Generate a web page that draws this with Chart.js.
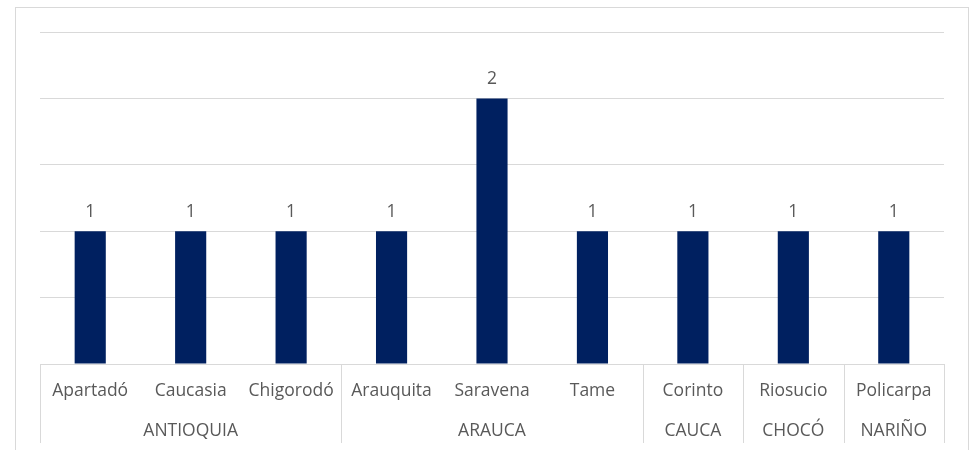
<!DOCTYPE html>
<html>
<head>
<meta charset="utf-8">
<script src="https://cdn.jsdelivr.net/npm/chart.js@4"></script>
<style>
html,body{margin:0;padding:0;background:#fff;}
#wrap{position:relative;width:973px;height:450px;}
</style>
</head>
<body>
<div id="wrap"><canvas id="c" width="973" height="450"></canvas></div>
<script>
const categories = ["Apartadó","Caucasia","Chigorodó","Arauquita","Saravena","Tame","Corinto","Riosucio","Policarpa"];
const values = [1,1,1,1,2,1,1,1,1];
const groups = ["ANTIOQUIA","ARAUCA","CAUCA","CHOCÓ","NARIÑO"];
const groupSizes = [3,3,1,1,1];

const FONT = "'Open Sans', sans-serif";
const TEXT_COLOR = "#595959";
const LINE_COLOR = "#d9d9d9";

const decor = {
  id: 'decor',
  beforeDraw(chart) {
    const ctx = chart.ctx;
    ctx.save();
    ctx.fillStyle = '#fff';
    ctx.fillRect(0,0,chart.width,chart.height);
    ctx.strokeStyle = LINE_COLOR;
    ctx.lineWidth = 1;
    ctx.strokeRect(15.5, 7.5, 953, 460);
    ctx.restore();
  },
  afterDraw(chart) {
    const ctx = chart.ctx;
    const x = chart.scales.x;
    const area = chart.chartArea;
    const half = (x.getPixelForValue(1) - x.getPixelForValue(0)) / 2;
    const top = area.bottom;
    const boxBottom = top + 79;
    ctx.save();
    ctx.strokeStyle = LINE_COLOR;
    ctx.lineWidth = 1;
    let idx = 0;
    const edges = [0];
    groupSizes.forEach(s => { idx += s; edges.push(idx); });
    edges.forEach(e => {
      const px = Math.round(x.getPixelForValue(e) - half) + 0.5;
      ctx.beginPath();
      ctx.moveTo(px, top);
      ctx.lineTo(px, boxBottom);
      ctx.stroke();
    });
    ctx.fillStyle = TEXT_COLOR;
    ctx.font = "17.5px " + FONT;
    ctx.textAlign = 'center';
    ctx.textBaseline = 'alphabetic';
    categories.forEach((c, i) => {
      ctx.fillText(c, x.getPixelForValue(i), top + 32);
    });
    let start = 0;
    groups.forEach((g, gi) => {
      const end = start + groupSizes[gi] - 1;
      const cx = (x.getPixelForValue(start) + x.getPixelForValue(end)) / 2;
      ctx.fillText(g, cx, top + 72);
      start += groupSizes[gi];
    });
    const meta = chart.getDatasetMeta(0);
    meta.data.forEach((bar, i) => {
      ctx.fillText(String(values[i]), bar.x, bar.y - 14);
    });
    ctx.restore();
  }
};

new Chart(document.getElementById('c'), {
  type: 'bar',
  data: {
    labels: categories,
    datasets: [{
      data: values,
      backgroundColor: '#002060',
      borderWidth: 0,
      categoryPercentage: 1,
      barPercentage: 0.31
    }]
  },
  options: {
    responsive: false,
    animation: false,
    events: [],
    layout: { padding: { left: 40, right: 29, top: 32, bottom: 86 } },
    plugins: { legend: { display: false }, tooltip: { enabled: false } },
    scales: {
      x: { display: false },
      y: {
        min: 0, max: 2.5,
        ticks: { display: false, stepSize: 0.5 },
        grid: { color: LINE_COLOR, drawTicks: false, lineWidth: 1 },
        border: { display: false }
      }
    }
  },
  plugins: [decor]
});
</script>
</body>
</html>
